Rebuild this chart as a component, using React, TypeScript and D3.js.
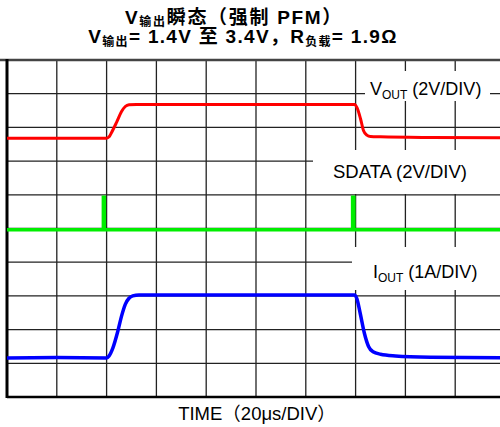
import React from 'react';
import * as d3 from 'd3';

// time in µs (20µs/div), level in divisions from bottom
const timeTicks = [0, 20, 40, 60, 80, 100, 120, 140, 160, 180, 200];
const divTicks = [0, 1, 2, 3, 4, 5, 6, 7, 8, 9, 10];

const vout: [number, number][] = [
  [0, 7.68], [20, 7.68], [40, 7.68], [41, 7.72], [42, 7.85], [44, 8.15], [46, 8.47],
  [47.5, 8.62], [49, 8.67], [52, 8.68], [100, 8.68], [139.6, 8.68], [140.6, 8.58],
  [142, 8.25], [143.2, 7.9], [144.5, 7.77], [146, 7.73], [150, 7.72], [170, 7.7], [200, 7.69],
];

const sdata: [number, number][] = [
  [0, 4.96], [38.7, 4.96], [38.7, 5.93], [39.1, 5.93], [39.1, 4.96], [138.8, 4.96],
  [138.8, 5.93], [139.3, 5.93], [139.3, 4.96], [200, 4.96],
];

const iout: [number, number][] = [
  [0, 1.16], [20, 1.17], [40, 1.16], [41, 1.22], [42.5, 1.45], [44.5, 1.95],
  [46, 2.4], [47.5, 2.75], [49, 2.93], [50.5, 3.0], [53, 3.03], [100, 3.03],
  [139.6, 3.03], [140.5, 2.92], [141.8, 2.5], [143.5, 1.9], [145.2, 1.5],
  [147, 1.34], [150, 1.27], [156, 1.22], [170, 1.18], [200, 1.16],
];

const W = 500;
const H = 427;
const font = '"Liberation Sans", Arial, "Noto Sans CJK SC", sans-serif';

const App = () => {
  const x = d3.scaleLinear().domain([0, 200]).range([7, 505]);
  const y = d3.scaleLinear().domain([0, 10]).range([397, 60]);
  const line = d3.line<[number, number]>()
    .x(d => x(d[0]))
    .y(d => y(d[1]));
  const smooth = d3.line<[number, number]>()
    .x(d => x(d[0]))
    .y(d => y(d[1]))
    .curve(d3.curveMonotoneX);

  return (
    <svg width={W} height={H} style={{ position: 'absolute', left: 0, top: 0, background: '#fff' }} fontFamily={font}>
      {/* title */}
      <text x={234} y={24} textAnchor="middle" fontSize={19} fontWeight="bold" letterSpacing={1.7} fill="#000">
        V<tspan fontSize={12} dy={2}>输出</tspan><tspan dy={-2}>瞬态（强制 PFM）</tspan>
      </text>
      <text x={243} y={43} textAnchor="middle" fontSize={19} fontWeight="bold" letterSpacing={1.3} fill="#000">
        V<tspan fontSize={12} dy={3}>输出</tspan><tspan dy={-3}>= 1.4V 至 3.4V，R</tspan>
        <tspan fontSize={12} dy={3}>负载</tspan><tspan dy={-3}>= 1.9Ω</tspan>
      </text>

      {/* grid */}
      {timeTicks.map(t => (
        <line key={'v' + t} x1={x(t)} x2={x(t)} y1={y(0)} y2={y(10)} stroke="#222" strokeWidth={1.3} />
      ))}
      {divTicks.map(d => (
        <line key={'h' + d} x1={x(0)} x2={x(200)} y1={y(d)} y2={y(d)} stroke="#222" strokeWidth={1.3} />
      ))}

      {/* label boxes */}
      <rect x={365} y={71} width={125} height={30} fill="#fff" />
      <rect x={313} y={150} width={187} height={44} fill="#fff" />
      <rect x={352} y={247} width={148} height={43} fill="#fff" />

      <text x={370} y={95} fontSize={18} fill="#000">
        V<tspan fontSize={12} dy={4}>OUT</tspan><tspan dy={-4}> (2V/DIV)</tspan>
      </text>
      <text x={333} y={178} fontSize={18.5} fill="#000">SDATA (2V/DIV)</text>
      <text x={373} y={278} fontSize={18} fill="#000">
        I<tspan fontSize={12} dy={4}>OUT</tspan><tspan dy={-4}> (1A/DIV)</tspan>
      </text>

      {/* borders */}
      <line x1={0} x2={W} y1={60} y2={60} stroke="#444" strokeWidth={2.5} />
      <line x1={7} x2={W} y1={397} y2={397} stroke="#000" strokeWidth={2.5} />
      <line x1={7} x2={7} y1={59} y2={398} stroke="#000" strokeWidth={3} />

      {/* traces */}
      <path d={smooth(vout) ?? ''} fill="none" stroke="#ff0000" strokeWidth={3} />
      <path d={line(sdata) ?? ''} fill="none" stroke="#00ee00" strokeWidth={3.5} />
      <path d={smooth(iout) ?? ''} fill="none" stroke="#0000ff" strokeWidth={3.5} />

      <text x={257} y={420} textAnchor="middle" fontSize={18.5} fill="#000">TIME（20μs/DIV）</text>
    </svg>
  );
};

export default App;
